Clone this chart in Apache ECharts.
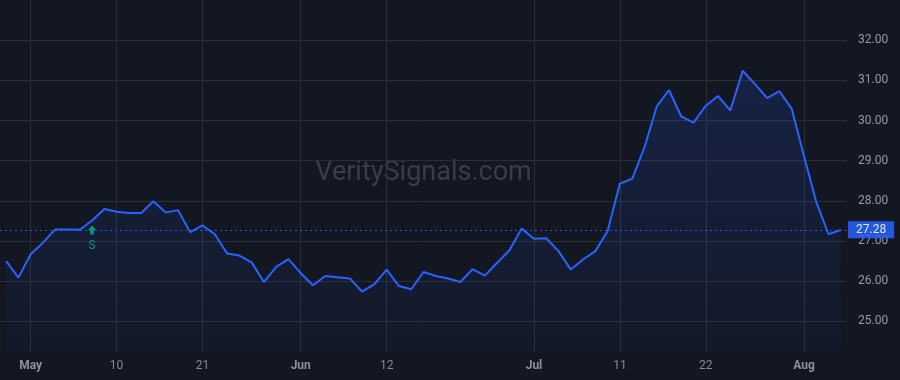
<!DOCTYPE html>
<html>
<head>
<meta charset="utf-8">
<script src="https://cdn.jsdelivr.net/npm/echarts@6/dist/echarts.min.js"></script>
<style>
  html, body { margin: 0; padding: 0; background: #131722; }
  #main { width: 900px; height: 380px; }
</style>
</head>
<body>
<div id="main"></div>
<script>
// trading days shown on the chart
var dates = [
  '2024-04-29', '2024-04-30',
  '2024-05-01', '2024-05-02', '2024-05-03', '2024-05-06', '2024-05-07', '2024-05-08', '2024-05-09', '2024-05-10',
  '2024-05-13', '2024-05-14', '2024-05-15', '2024-05-16', '2024-05-17', '2024-05-20', '2024-05-21', '2024-05-22',
  '2024-05-23', '2024-05-24', '2024-05-28', '2024-05-29', '2024-05-30', '2024-05-31',
  '2024-06-03', '2024-06-04', '2024-06-05', '2024-06-06', '2024-06-07', '2024-06-10', '2024-06-11', '2024-06-12',
  '2024-06-13', '2024-06-14', '2024-06-17', '2024-06-18', '2024-06-20', '2024-06-21', '2024-06-24', '2024-06-25',
  '2024-06-26', '2024-06-27', '2024-06-28',
  '2024-07-01', '2024-07-02', '2024-07-03', '2024-07-05', '2024-07-08', '2024-07-09', '2024-07-10', '2024-07-11',
  '2024-07-12', '2024-07-15', '2024-07-16', '2024-07-17', '2024-07-18', '2024-07-19', '2024-07-22', '2024-07-23',
  '2024-07-24', '2024-07-25', '2024-07-26', '2024-07-29', '2024-07-30', '2024-07-31',
  '2024-08-01', '2024-08-02', '2024-08-05', '2024-08-06'
];

var prices = [
  26.50, 26.09,
  26.67, 26.96, 27.29, 27.29, 27.28, 27.51, 27.80, 27.73,
  27.70, 27.70, 27.99, 27.71, 27.77, 27.22, 27.39, 27.17,
  26.69, 26.64, 26.47, 25.98, 26.36, 26.55,
  26.20, 25.90, 26.13, 26.10, 26.07, 25.74, 25.93, 26.29,
  25.88, 25.80, 26.23, 26.13, 26.07, 25.98, 26.30, 26.14,
  26.46, 26.77, 27.31,
  27.06, 27.07, 26.75, 26.29, 26.54, 26.75, 27.25, 28.43,
  28.55, 29.33, 30.35, 30.76, 30.10, 29.95, 30.37, 30.61,
  30.25, 31.24, 30.91, 30.56, 30.73, 30.29,
  29.11, 27.97, 27.17, 27.28
];

// x axis labels
var tickDates = ['2024-05-01', '2024-05-10', '2024-05-21', '2024-06-03', '2024-06-12', '2024-07-01', '2024-07-11', '2024-07-22', '2024-08-01'];
var tickLabels = ['May', '10', '21', 'Jun', '12', 'Jul', '11', '22', 'Aug'];

// signals
var signalDates = ['2024-05-08'];
var signalTypes = ['S'];

var lastPrice = 27.28;
var fillBase = 24.24; // value at the bottom edge of the visible plot

var FONT = 'Roboto, "Liberation Sans", Arial, sans-serif';

function showTick(idx, val) {
  return tickDates.indexOf(val) >= 0;
}

var signalPoints = signalDates.map(function (d, k) {
  var i = dates.indexOf(d);
  return { coord: [d, prices[i]], value: signalTypes[k] };
});

var myChart = echarts.init(document.getElementById('main'));
myChart.setOption({
  backgroundColor: '#131722',
  animation: false,
  textStyle: { fontFamily: FONT },
  graphic: [{
    type: 'text',
    x: 423.5,
    y: 173,
    z: 0,
    silent: true,
    style: {
      text: 'VeritySignals.com',
      fill: '#393d49',
      font: '27px ' + FONT,
      align: 'center',
      verticalAlign: 'middle'
    }
  }],
  grid: [
    { left: 0, right: 53, top: -1, bottom: 18.4 },   // series + price scale
    { left: 0, right: 53, top: 0, bottom: 28 }       // time scale + vertical lines
  ],
  xAxis: [{
    type: 'category',
    gridIndex: 0,
    data: dates,
    boundaryGap: true,
    show: false
  }, {
    type: 'category',
    gridIndex: 1,
    data: dates,
    boundaryGap: true,
    axisLine: { show: false },
    axisTick: { show: false },
    axisLabel: {
      interval: showTick,
      margin: 8,
      fontSize: 12,
      color: '#868993',
      formatter: function (val) {
        var t = tickLabels[tickDates.indexOf(val)];
        return isNaN(+t) ? '{m|' + t + '}' : t;
      },
      rich: {
        m: { fontWeight: 'bold', fontSize: 12, color: '#8e919b', fontFamily: FONT }
      }
    },
    splitLine: {
      show: true,
      interval: showTick,
      alignWithLabel: true,
      lineStyle: { color: '#2a2e39', width: 1 }
    }
  }],
  yAxis: [{
    type: 'value',
    gridIndex: 0,
    position: 'right',
    min: 24,
    max: 33,
    interval: 1,
    axisLine: { show: false },
    axisTick: { show: false },
    axisLabel: {
      margin: 11,
      fontSize: 12,
      color: '#9598a1',
      showMinLabel: false,
      showMaxLabel: false,
      formatter: function (v) { return v.toFixed(2); }
    },
    splitLine: {
      show: true,
      showMinLine: false,
      showMaxLine: false,
      lineStyle: { color: '#2a2e39', width: 1 }
    }
  }, {
    type: 'value',
    gridIndex: 1,
    show: false
  }],
  series: [{
    type: 'line',
    xAxisIndex: 0,
    yAxisIndex: 0,
    data: prices,
    showSymbol: false,
    symbol: 'none',
    lineStyle: { color: '#2962ff', width: 2 },
    itemStyle: { color: '#2962ff' },
    areaStyle: {
      origin: fillBase,
      color: new echarts.graphic.LinearGradient(0, 0, 0, 1, [
        { offset: 0, color: 'rgba(41, 98, 255, 0.22)' },
        { offset: 1, color: 'rgba(41, 98, 255, 0.04)' }
      ])
    },
    markLine: {
      silent: true,
      symbol: ['none', 'none'],
      lineStyle: { color: '#2962ff', type: [2, 3], width: 1, opacity: 0.85 },
      label: {
        show: true,
        position: 'end',
        distance: 1,
        formatter: function () { return lastPrice.toFixed(2); },
        color: '#ffffff',
        fontSize: 12,
        lineHeight: 13,
        backgroundColor: '#2962ff',
        padding: [2, 8, 2, 8]
      },
      data: [{ yAxis: lastPrice }]
    },
    markPoint: {
      silent: true,
      symbol: 'path://M4,0 L8,4.5 L5.8,4.5 L5.8,9 L2.2,9 L2.2,4.5 L0,4.5 Z',
      symbolSize: [8, 9],
      symbolOffset: [0, 9.5],
      itemStyle: { color: '#089981' },
      label: {
        show: true,
        position: 'bottom',
        distance: 5,
        color: '#089981',
        fontSize: 12,
        formatter: function (p) { return p.value; }
      },
      data: signalPoints
    }
  }]
});
</script>
</body>
</html>
